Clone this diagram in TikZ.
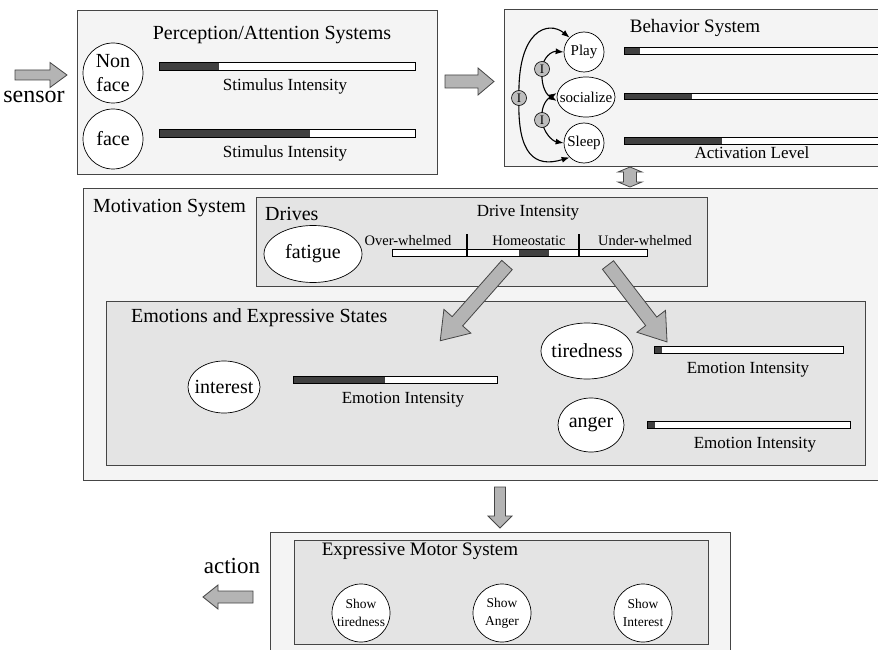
\documentclass[tikz,border=0pt]{standalone}
\usepackage{fontspec}
\setmainfont{Liberation Serif}
\usetikzlibrary{arrows.meta,shapes.geometric}
\definecolor{panel}{HTML}{F4F4F4}
\definecolor{innerpanel}{HTML}{E4E4E4}
\definecolor{darkbar}{HTML}{404040}
\definecolor{arrowfill}{HTML}{B4B4B4}
\definecolor{inhib}{HTML}{BDBDBD}
\definecolor{edge}{HTML}{454545}
\tikzset{
 panelbox/.style={draw=edge, line width=1pt, fill=panel, rectangle, anchor=north west, inner sep=0pt},
 innerbox/.style={panelbox, fill=innerpanel},
 lbl/.style={inner sep=0pt, font=\fontsize{17}{19}\selectfont},
 ttl/.style={inner sep=0pt, font=\fontsize{20}{22}\selectfont},
 smalltxt/.style={inner sep=0pt, font=\fontsize{14.5}{16}\selectfont},
 bigtxt/.style={inner sep=0pt, font=\fontsize{24}{26}\selectfont},
 unit/.style={draw=black, line width=0.7pt, fill=white, inner sep=0pt},
 intext/.style={inner sep=0pt, align=center},
 barbox/.style={draw=black, line width=0.7pt},
 blockarrow/.style={draw=edge, line width=0.8pt, fill=arrowfill, line join=miter},
 inh/.style={line width=1.1pt, {Latex[length=8pt,width=6pt]}-{Latex[length=8pt,width=6pt]}},
 inode/.style={circle, draw=black, line width=0.6pt, fill=inhib, minimum size=15pt, inner sep=0pt, font=\fontsize{13}{13}\selectfont},
}
\newcommand{\drawbar}[5]{%
 \fill[white] (#1,#2) rectangle (#3,#4);
 \fill[darkbar] (#1,#2) rectangle (#5,#4);
 \draw[barbox] (#1,#2) rectangle (#3,#4);}
\newcommand{\blockarr}[7]{%
 \begin{scope}[shift={(#1,#2)},rotate=#3]
 \draw[blockarrow] (0,-#5) -- ({#4-#7},-#5) -- ({#4-#7},-#6) -- (#4,0) -- ({#4-#7},#6) -- ({#4-#7},#5) -- (0,#5) -- cycle;
 \end{scope}}
\begin{document}
\begin{tikzpicture}[x=1pt,y=-1pt]
\useasboundingbox (0,0) rectangle (878,650);
\fill[white] (0,0) rectangle (878,650);
\clip (0,0) rectangle (878,650);

% ---------- panels ----------
\node[panelbox, minimum width=360pt, minimum height=164pt] (percep) at (77,10) {};
\node[panelbox, minimum width=390pt, minimum height=157pt] (behav) at (504,9) {};
\node[panelbox, minimum width=810pt, minimum height=292pt] (motiv) at (83,188) {};
\node[innerbox, minimum width=451pt, minimum height=89pt] (drives) at (256,197) {};
\node[innerbox, minimum width=759pt, minimum height=164pt] (emot) at (106,301) {};
\node[panelbox, minimum width=460pt, minimum height=130pt] (motorout) at (270,532) {};
\node[innerbox, minimum width=414pt, minimum height=104pt] (motor) at (294,540) {};

% ---------- perception ----------
\node[ttl] (ptitle) at (272,35) {Perception/Attention Systems};
\node[unit, circle, minimum size=60pt] (nonface) at (113,73) {};
\node[intext, font=\fontsize{20}{24}\selectfont] (nonfaceT) at (nonface.center) {Non\\face};
\node[unit, circle, minimum size=60pt] (face) at (113,139) {};
\node[intext, font=\fontsize{20}{24}\selectfont] (faceT) at (face.center) {face};
\drawbar{159}{62}{415}{70}{219}
\drawbar{159}{129}{415}{137}{310}
\node[lbl] (stim1) at (285,86) {Stimulus Intensity};
\node[lbl] (stim2) at (285,153) {Stimulus Intensity};
\node[bigtxt] (sensor) at (34,97) {sensor};
\blockarr{15}{75}{0}{52}{5}{12.5}{17}
\blockarr{445}{81.5}{0}{49}{6.5}{13.5}{16}

% ---------- behavior ----------
\node[ttl, font=\fontsize{19}{21}\selectfont] (btitle) at (695,28) {Behavior System};
\node[unit, circle, minimum size=40pt] (play) at (584,52) {};
\node[intext, font=\fontsize{15}{17}\selectfont] (playT) at (play.center) {Play};
\node[unit, ellipse, minimum width=58pt, minimum height=40pt] (soc) at (586,97) {};
\node[intext, font=\fontsize{15}{17}\selectfont] (socT) at (soc.center) {socialize};
\node[unit, circle, minimum size=40pt] (sleep) at (584,143) {};
\node[intext, font=\fontsize{15}{17}\selectfont] (sleepT) at (sleep.center) {Sleep};
\drawbar{624}{47}{900}{54}{640}
\drawbar{624}{93}{900}{99}{692}
\drawbar{624}{137}{900}{144}{722}
\node[lbl] (actlvl) at (752,153) {Activation Level};
\coordinate (i1) at (542,69);
\coordinate (i2) at (542,120);
\coordinate (i3) at (519,98);
\draw[inh] ([yshift=-4pt]soc.west) .. controls (544,93) and (541,82) .. (i1) .. controls (543,57) and (552,51) .. (play.west);
\draw[inh] ([yshift=4pt]soc.west) .. controls (544,101) and (541,110) .. (i2) .. controls (543,132) and (552,141) .. (sleep.west);
\draw[inh] (play.north west) .. controls (548,20) and (517,30) .. (i3) .. controls (517,155) and (535,168) .. (sleep.south west);
\node[inode] (inh1) at (i1) {I};
\node[inode] (inh2) at (i2) {I};
\node[inode] (inh3) at (i3) {I};
% double arrow
\draw[blockarrow] (618,172) -- (630,167) -- (642,172) -- (636.5,172) -- (636.5,182) -- (642,182) -- (630,187) -- (618,182) -- (623.5,182) -- (623.5,172) -- cycle;

% ---------- motivation ----------
\node[ttl, anchor=west] (mtitle) at (93,208) {Motivation System};
\node[ttl, anchor=west] (dtitle) at (265,214) {Drives};
\node[unit, ellipse, minimum width=98pt, minimum height=57pt] (fatigue) at (313,254) {};
\node[intext, font=\fontsize{20}{22}\selectfont] (fatigueT) at (fatigue.center) {fatigue};
\node[lbl] (dint) at (528,213) {Drive Intensity};
\node[smalltxt] (over) at (408,241) {Over-whelmed};
\node[smalltxt] (homeo) at (529,241) {Homeostatic};
\node[smalltxt] (under) at (645,241) {Under-whelmed};
\fill[white] (392,249) rectangle (647,256);
\fill[darkbar] (519,249) rectangle (549,256);
\draw[barbox] (392,249) rectangle (647,256);
\draw[line width=2pt] (467,234) -- (467,256);
\draw[line width=2pt] (579,234) -- (579,256);

% ---------- emotions ----------
\node[ttl, anchor=west] (etitle) at (131,318) {Emotions and Expressive States};
\node[unit, ellipse, minimum width=72pt, minimum height=52pt] (interest) at (224,387) {};
\node[intext, font=\fontsize{20}{22}\selectfont] (interestT) at (interest.center) {interest};
\drawbar{293}{376}{497}{383}{385}
\node[lbl] (ei1) at (403,400) {Emotion Intensity};
\node[unit, ellipse, minimum width=92pt, minimum height=56pt] (tired) at (587,351) {};
\node[intext, font=\fontsize{20}{22}\selectfont] (tiredT) at (tired.center) {tiredness};
\drawbar{654}{346}{843}{353}{662}
\node[lbl] (ei2) at (748,370) {Emotion Intensity};
\node[unit, ellipse, minimum width=66pt, minimum height=54pt] (anger) at (591,425) {};
\node[intext, font=\fontsize{20}{22}\selectfont] (angerT) at (anger.center) {anger};
\drawbar{647}{421}{850}{428}{655}
\node[lbl] (ei3) at (755,445) {Emotion Intensity};
\blockarr{507}{265}{228.6}{101}{7}{18}{26}
\blockarr{608}{265}{-52.5}{97}{7}{18}{26}

% ---------- motor ----------
\blockarr{500}{487}{-90}{41}{5.5}{12}{12}
\node[ttl, font=\fontsize{19}{21}\selectfont] (mottitle) at (420,551) {Expressive Motor System};
\node[unit, circle, minimum size=58pt] (showt) at (361,613) {};
\node[intext, font=\fontsize{13.5}{18}\selectfont] (showtT) at (showt.center) {Show\\tiredness};
\node[unit, circle, minimum size=58pt] (showa) at (502,613) {};
\node[intext, font=\fontsize{13.5}{18}\selectfont] (showaT) at (showa.center) {Show\\Anger};
\node[unit, circle, minimum size=58pt] (showi) at (643,613) {};
\node[intext, font=\fontsize{13.5}{18}\selectfont] (showiT) at (showi.center) {Show\\Interest};
\node[bigtxt, font=\fontsize{23}{25}\selectfont] (action) at (232,566) {action};
\blockarr{253}{597}{180}{50}{6}{12}{15}
\end{tikzpicture}
\end{document}
